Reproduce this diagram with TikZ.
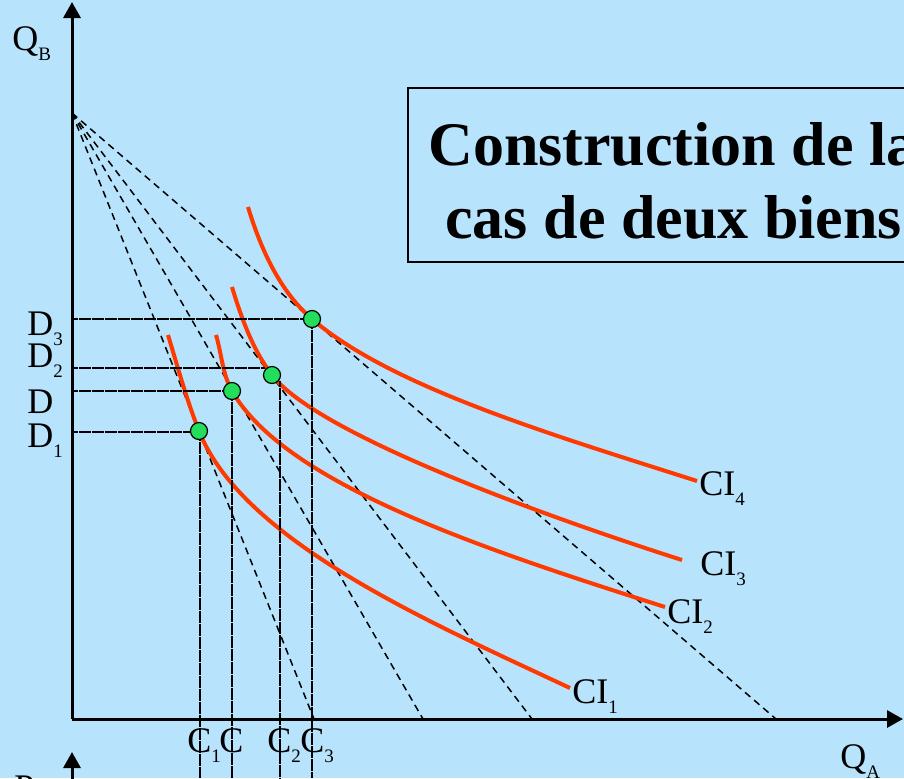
\documentclass[tikz,border=0pt]{standalone}
\usepackage{fontspec}
\setmainfont{Liberation Serif}
\usetikzlibrary{arrows.meta}
\definecolor{skyback}{RGB}{183,227,252}
\definecolor{cired}{RGB}{255,58,0}
\definecolor{ptgreen}{RGB}{34,222,90}
\newcommand\lowidx[1]{\raisebox{-5pt}{\fontsize{9.5}{10}\selectfont #1}}
\tikzset{
  lbl/.style={inner sep=0pt, anchor=base west, font=\fontsize{18}{20}\selectfont},
  budget/.style={black, line width=0.75pt, dash pattern=on 3.5pt off 2.5pt},
  guide/.style={black, line width=0.8pt, dash pattern=on 3pt off 0.25pt},
  ci/.style={cired, line width=2pt},
  opt/.style={circle, draw=black, fill=ptgreen, line width=0.6pt, minimum size=8.5pt, inner sep=0pt},
  axis/.style={black, line width=1.5pt, -{Triangle[length=8pt,width=8.5pt]}},
}
\begin{document}
\begin{tikzpicture}[x=0.5pt,y=-0.5pt]
        \fill[skyback] (0,0) rectangle (904,778);
        \clip (0,0) rectangle (904,778);

        % Axes
        \coordinate (o) at (72,719);
        \draw[axis] (o) -- (72,2);
        \draw[axis] (o) -- (903,719);
        \draw[axis] (72,780) -- (72,752);
        \node[lbl] (qb) at (12,50) {Q\lowidx{B}};
        \node[lbl] (qa) at (840,768) {Q\lowidx{A}};
        \node[lbl] (pa) at (14,799) {P};

        % Title box
        \draw[line width=1pt] (408,88) rectangle (920,262);
        \node[lbl, font=\fontsize{31}{36}\selectfont\bfseries] (title1) at (428,165) {Construction de la};
        \node[lbl, font=\fontsize{31}{36}\selectfont\bfseries] (title2) at (445,238) {cas de deux biens};

        % Budget lines
        \coordinate (apex) at (72,113);
        \foreach \ex/\nm in {314/b1, 423/b2, 532/b3, 776/b4}
          \draw[budget] (apex) -- (\ex,719) coordinate (\nm);

        % Indifference curves
        \coordinate (e1) at (199,431);
        \coordinate (e) at (232,391);
        \coordinate (e2) at (272,375);
        \coordinate (e3) at (312,319);
        \draw[ci] (168,335) .. controls (177.6,366.6) and (186.8,400.3) .. (e1)
                  .. controls (243.5,542.5) and (434,624) .. (570,688);
        \draw[ci] (216,335) .. controls (221.5,353.2) and (222.5,374.5) .. (e)
                  .. controls (286.9,486.4) and (493.6,552.1) .. (665,607);
        \draw[ci] (232,287) .. controls (241.3,317.6) and (252.6,349.6) .. (e2)
                  .. controls (314.5,430.7) and (520.2,508.2) .. (682,560);
        \draw[ci] (248,207) .. controls (260.5,248.2) and (279.4,291) .. (e3)
                  .. controls (391.7,387.4) and (554.2,435.3) .. (697,481);
        \node[lbl] (ci1) at (572,703) {CI\lowidx{1}};
        \node[lbl] (ci2) at (667,623) {CI\lowidx{2}};
        \node[lbl] (ci3) at (700,575) {CI\lowidx{3}};
        \node[lbl] (ci4) at (699,495) {CI\lowidx{4}};

        % Projections on the axes
        \draw[guide] (72,432) -- (195,432);
        \draw[guide] (72,391) -- (228,391);
        \draw[guide] (72,368) -- (265,368);
        \draw[guide] (72,319) -- (308,319);
        \draw[guide] (200,435) -- (200,778);
        \draw[guide] (232,395) -- (232,778);
        \draw[guide] (280,381) -- (280,778);
        \draw[guide] (312,323) -- (312,778);

        % Optimum points
        \node[opt] at (e1) {};
        \node[opt] at (e) {};
        \node[opt] at (e2) {};
        \node[opt] at (e3) {};

        \node[lbl] (d3) at (27,335) {D\lowidx{3}};
        \node[lbl] (d2) at (27,367) {D\lowidx{2}};
        \node[lbl] (d) at (27,413) {D};
        \node[lbl] (d1) at (27,447) {D\lowidx{1}};
        \node[lbl] (c1) at (187,752) {C\lowidx{1}};
        \node[lbl] (c) at (219,752) {C};
        \node[lbl] (c2) at (267,752) {C\lowidx{2}};
        \node[lbl] (c3) at (300,752) {C\lowidx{3}};
\end{tikzpicture}
\end{document}
